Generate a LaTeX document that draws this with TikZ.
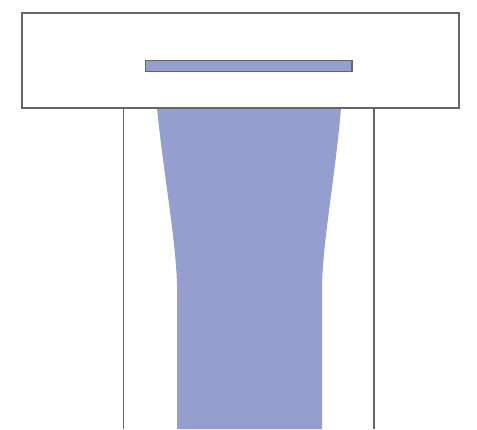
\documentclass[tikz,border=0pt]{standalone}
\begin{document}
\begin{tikzpicture}[x=1pt,y=-1pt,
  edge/.style={draw=black!60,line width=1.6pt},
  flow/.style={fill=flowblue}]
\definecolor{flowblue}{HTML}{949FCF}
\useasboundingbox[fill=white] (0,0) rectangle (477,429);
% channel walls
\draw[edge] (123.5,108) -- (123.5,429);
\draw[edge] (374,108) -- (374,429);
% blue jet
\fill[flowblue] (157,108) .. controls (163,170) and (176,240) .. (177,285) -- (177,429)
  -- (322,429) -- (322,285) .. controls (323,240) and (336,170) .. (341,108) -- cycle;
% top box
\draw[edge,fill=white] (22,13) rectangle (459,108);
% slot
\draw[edge,fill=flowblue] (145.5,60.5) rectangle (352,71.5);
\end{tikzpicture}
\end{document}
